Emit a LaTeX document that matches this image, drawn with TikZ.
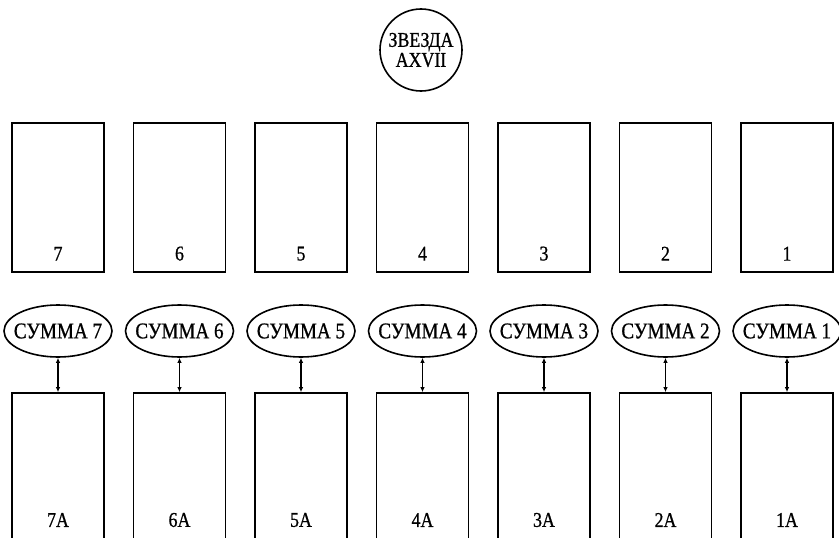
\documentclass[tikz,border=0pt]{standalone}
\usepackage{fontspec}
\setmainfont{Liberation Serif}[FakeStretch=0.85,FakeBold=0.8]
\usetikzlibrary{shapes.geometric,arrows.meta,positioning}

\tikzset{
  box/.style={draw,line width=1.7pt,minimum width=92pt,inner sep=0pt},
  topbox/.style={box,minimum height=149pt},
  lowbox/.style={box,minimum height=175pt},
  summa/.style={draw,ellipse,line width=1.6pt,minimum width=108pt,minimum height=52pt,
    inner xsep=-12pt,inner ysep=0pt,font=\fontsize{22.5}{23}\selectfont},
  num/.style={font=\fontsize{21}{22}\selectfont,inner sep=0pt},
  link/.style={line width=1.3pt,{Latex[length=5pt,width=4.5pt]}-{Latex[length=5pt,width=4.5pt]}}
}

\begin{document}
\begin{tikzpicture}[x=1pt,y=1pt]
  \useasboundingbox (0,0) rectangle (839,-538);
  \clip (0,0) rectangle (839,-538);
  % star
  \node[draw,circle,line width=1.6pt,minimum size=82pt,inner sep=-6pt,align=center,
        font=\fontsize{21}{20}\selectfont] (star) at (421,-50) {ЗВЕЗДА\\AXVII};
  % columns
  \foreach \i [evaluate=\i as \x using 787-(\i-1)*121.5] in {1,...,7}{
    \node[topbox] (t\i) at (\x,-197.5) {};
    \node[num,above=12pt of t\i.south] {\i};
    \node[summa] (s\i) at (\x,-331) {СУММА \i};
    \node[lowbox] (b\i) at (\x,-480.5) {};
    \node[num] at (\x,-520) {\i A};
    \draw[link] (s\i) -- (b\i);
  }
\end{tikzpicture}
\end{document}
